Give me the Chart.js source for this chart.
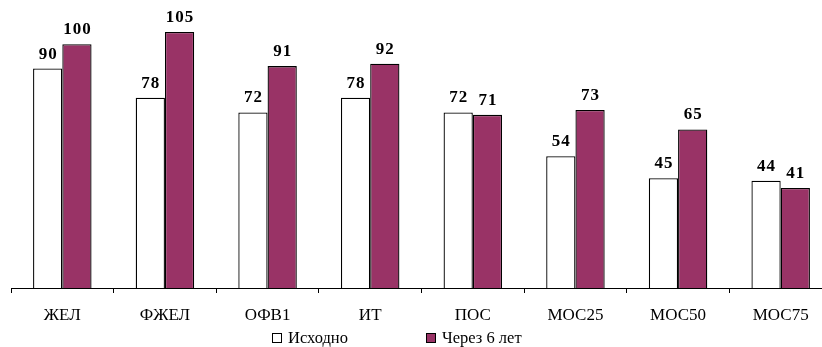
<!DOCTYPE html>
<html>
<head>
<meta charset="utf-8">
<script src="https://cdn.jsdelivr.net/npm/chart.js@4/dist/chart.umd.min.js"></script>
<style>
  html, body { margin: 0; padding: 0; background: #fff; overflow: hidden; }
  #wrap { position: relative; width: 822px; height: 347px; overflow: hidden; }
  #box { position: absolute; left: 0; top: 0; width: 832px; height: 347px; }
</style>
</head>
<body>
<div id="wrap"><div id="box"><canvas id="c"></canvas></div></div>
<script>
// Spirometry indices, % of predicted
const categories = ['ЖЕЛ', 'ФЖЕЛ', 'ОФВ1', 'ИТ', 'ПОС', 'МОС25', 'МОС50', 'МОС75'];
const baseline = [90, 78, 72, 78, 72, 54, 45, 44];
const after6Years = [100, 105, 91, 92, 71, 73, 65, 41];
const seriesNames = ['Исходно', 'Через 6 лет'];

const MAROON = '#993366';
const SERIF = '"Liberation Serif", "Times New Roman", serif';

// Bold value labels above each bar
const valueLabels = {
  id: 'valueLabels',
  afterDatasetsDraw(chart) {
    const ctx = chart.ctx;
    ctx.save();
    ctx.font = 'bold 17px ' + SERIF;
    ctx.fillStyle = '#000';
    ctx.textAlign = 'center';
    ctx.textBaseline = 'alphabetic';
    if ('letterSpacing' in ctx) ctx.letterSpacing = '1px';
    chart.data.datasets.forEach((ds, i) => {
      chart.getDatasetMeta(i).data.forEach((bar, j) => {
        ctx.fillText(String(ds.data[j]), bar.x + 0.5, bar.y - 10);
      });
    });
    ctx.restore();
  }
};

// Legend row underneath the axis
const bottomLegend = {
  id: 'bottomLegend',
  afterDraw(chart) {
    const ctx = chart.ctx;
    const items = [
      { x: 272, fill: '#fff', text: seriesNames[0] },
      { x: 426, fill: MAROON, text: seriesNames[1] }
    ];
    ctx.save();
    ctx.font = '16.5px ' + SERIF;
    ctx.textBaseline = 'middle';
    items.forEach(it => {
      ctx.fillStyle = it.fill;
      ctx.fillRect(it.x + 0.5, 333.5, 9, 9);
      ctx.strokeStyle = '#000';
      ctx.lineWidth = 1;
      ctx.strokeRect(it.x + 0.5, 333.5, 9, 9);
      ctx.fillStyle = '#000';
      ctx.fillText(it.text, it.x + 16, 338.5);
    });
    ctx.restore();
  }
};

new Chart(document.getElementById('c'), {
  type: 'bar',
  data: {
    labels: categories,
    datasets: [
      { label: seriesNames[0], data: baseline, backgroundColor: '#fff', borderColor: '#000', borderWidth: 1.3 },
      { label: seriesNames[1], data: after6Years, backgroundColor: MAROON, borderColor: '#000', borderWidth: 1.3 }
    ]
  },
  options: {
    responsive: true,
    maintainAspectRatio: false,
    animation: false,
    layout: { padding: { left: 11, right: 0, top: 10, bottom: 0 } },
    datasets: { bar: { categoryPercentage: 0.57, barPercentage: 1.0 } },
    plugins: { legend: { display: false }, tooltip: { enabled: false } },
    scales: {
      y: { display: false, min: 0, max: 114 },
      x: {
        afterFit(scale) { scale.height = 59; },
        border: { display: true, color: '#000', width: 1 },
        grid: { offset: true, drawOnChartArea: false, drawTicks: true, tickLength: 5, color: '#000' },
        ticks: { color: '#000', font: { family: SERIF, size: 17 }, padding: 12 }
      }
    }
  },
  plugins: [valueLabels, bottomLegend]
});
</script>
</body>
</html>
